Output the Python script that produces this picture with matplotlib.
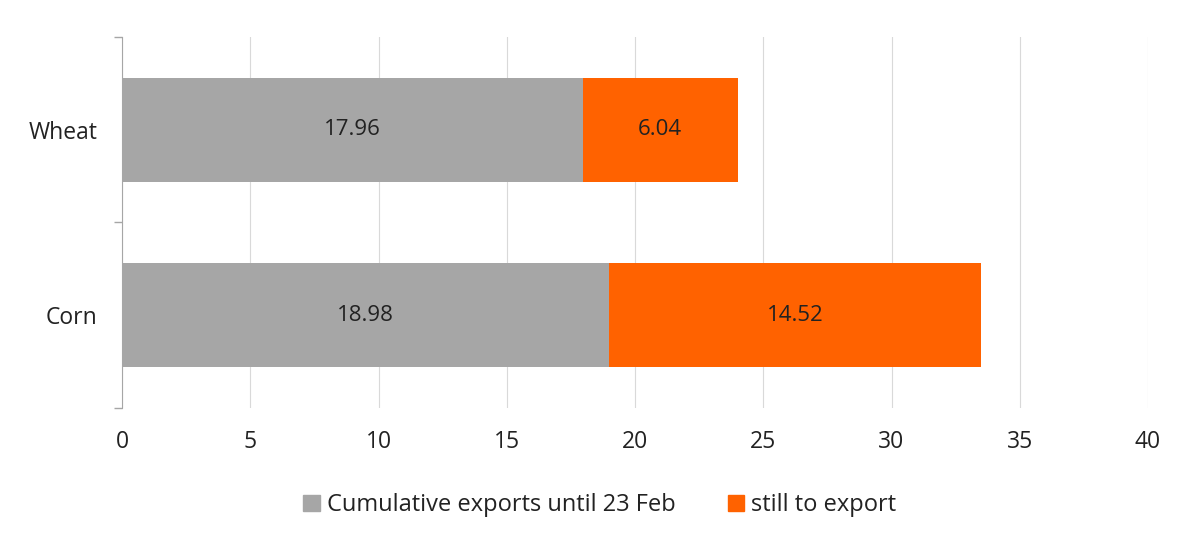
import matplotlib.pyplot as plt
from matplotlib.patches import Patch

# Data (million tonnes)
crops = ['Corn', 'Wheat']
exported = [18.98, 17.96]
remaining = [14.52, 6.04]
series_names = ['Cumulative exports until 23 Feb', 'still to export']
grey = '#A6A6A6'
orange = '#FF6200'

plt.rcParams['font.family'] = ['Open Sans', 'DejaVu Sans']

fig = plt.figure(figsize=(12, 5.52), dpi=100)
ax = fig.add_axes([0.1017, 0.261, 0.855, 0.672])

ypos = range(len(crops))
b1 = ax.barh(ypos, exported, height=0.56, color=grey)
b2 = ax.barh(ypos, remaining, left=exported, height=0.56, color=orange)

for bars, vals in ((b1, exported), (b2, remaining)):
    ax.bar_label(bars, labels=[f'{v:.2f}' for v in vals], label_type='center',
                 fontsize=16, color='#222222')

ax.set_xlim(0, 40)
ax.set_ylim(-0.5, 1.5)
ax.set_xticks(range(0, 41, 5))
ax.set_yticks(list(ypos))
ax.set_yticklabels(crops)
ax.set_yticks([-0.5, 0.5, 1.5], minor=True)

ax.grid(axis='x', color='#D9D9D9', linewidth=0.8)
ax.set_axisbelow(True)
for s in ['top', 'right', 'bottom']:
    ax.spines[s].set_visible(False)
ax.spines['left'].set_color('#A6A6A6')

ax.tick_params(axis='y', which='major', length=0, pad=18, labelsize=16.5, labelcolor='#222222')
ax.tick_params(axis='y', which='minor', length=6, color='#A6A6A6', width=1)
ax.tick_params(axis='x', length=0, pad=16, labelsize=16.5, labelcolor='#222222')

handles = [Patch(color=grey), Patch(color=orange)]
fig.legend(handles, series_names, loc='center', bbox_to_anchor=(0.5, 0.085), ncol=2,
           frameon=False, fontsize=17, handlelength=0.7, handleheight=0.7,
           handletextpad=0.3, columnspacing=2.2, labelcolor='#222222')

fig.savefig('out.png', dpi=100)
